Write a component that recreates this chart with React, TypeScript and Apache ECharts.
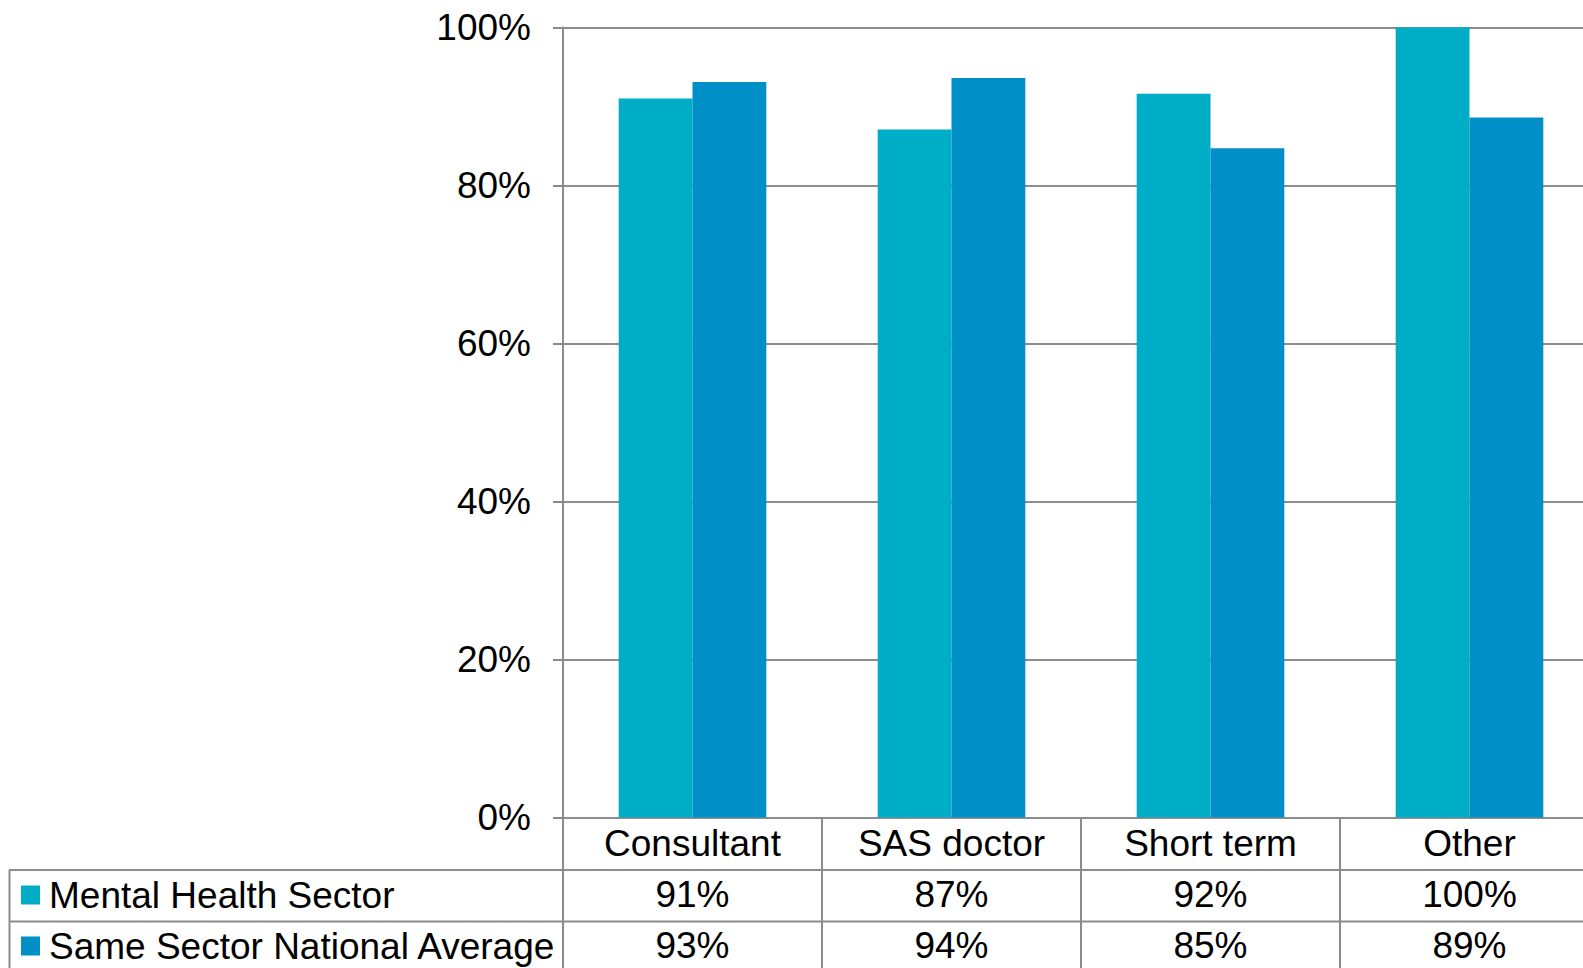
import React, { useEffect, useRef } from "react";
import * as echarts from "echarts";

const categories = ["Consultant", "SAS doctor", "Short term", "Other"];
const seriesNames = ["Mental Health Sector", "Same Sector National Average"];
const mentalHealth = [0.91, 0.871, 0.916, 1.0];
const nationalAverage = [0.931, 0.936, 0.847, 0.886];
const yTicks = [0, 0.2, 0.4, 0.6, 0.8, 1.0];

const colors = ["#00ADC6", "#008FC7"];
const gray = "#8c8c8c";
const font = "'Liberation Sans', Arial, sans-serif";

const pct = (v: number) => `${Math.round(v * 100)}%`;

export default function App() {
  const ref = useRef<HTMLDivElement>(null);
  useEffect(() => {
    if (!ref.current) return;
    const chart = echarts.init(ref.current, null, { renderer: "svg" });
    chart.setOption({
      animation: false,
      textStyle: { fontFamily: font },
      grid: {
        left: 563,
        right: 1,
        top: 27.5,
        bottom: 150.5,
        outerBoundsMode: "none",
        containLabel: false,
      },
      legend: {
        orient: "vertical",
        left: 21,
        top: 875,
        padding: 0,
        itemGap: 11,
        itemWidth: 19,
        itemHeight: 19,
        icon: "rect",
        selectedMode: false,
        data: seriesNames,
        textStyle: {
          fontFamily: font,
          fontSize: 37,
          lineHeight: 40,
          color: "#000",
          padding: [0, 0, 0, 4],
        },
      },
      xAxis: {
        type: "category",
        data: categories,
        axisLine: { show: true, lineStyle: { color: gray, width: 2 } },
        axisTick: {
          show: true,
          alignWithLabel: false,
          length: 151,
          lineStyle: { color: gray, width: 2 },
        },
        axisLabel: {
          interval: 0,
          margin: 0,
          fontFamily: font,
          fontSize: 37,
          lineHeight: 51,
          color: "#000",
          align: "center",
          formatter: (value: string, index: number) =>
            `${value}\n${pct(mentalHealth[index])}\n${pct(nationalAverage[index])}`,
        },
      },
      yAxis: {
        type: "value",
        min: yTicks[0],
        max: yTicks[yTicks.length - 1],
        interval: 0.2,
        axisLine: { show: true, lineStyle: { color: gray, width: 2 } },
        axisTick: { show: true, length: 10, lineStyle: { color: gray, width: 2 } },
        splitLine: { show: true, lineStyle: { color: gray, width: 2 } },
        axisLabel: {
          margin: 32,
          fontFamily: font,
          fontSize: 37,
          color: "#000",
          formatter: (v: number) => pct(v),
        },
      },
      series: [
        {
          name: seriesNames[0],
          type: "bar",
          data: mentalHealth,
          itemStyle: { color: colors[0] },
          barGap: "0%",
          barCategoryGap: "43%",
        },
        {
          name: seriesNames[1],
          type: "bar",
          data: nationalAverage,
          itemStyle: { color: colors[1] },
          barGap: "0%",
          barCategoryGap: "43%",
        },
      ],
      graphic: [
        {
          type: "line",
          shape: { x1: 9, y1: 870, x2: 1600, y2: 870 },
          style: { stroke: gray, lineWidth: 2 },
        },
        {
          type: "line",
          shape: { x1: 9, y1: 921.5, x2: 1600, y2: 921.5 },
          style: { stroke: gray, lineWidth: 2 },
        },
        {
          type: "line",
          shape: { x1: 9.5, y1: 870, x2: 9.5, y2: 968 },
          style: { stroke: gray, lineWidth: 2 },
        },
      ],
    });
    return () => chart.dispose();
  }, []);
  return (
    <div
      style={{
        position: "fixed",
        left: 0,
        top: 0,
        width: 1583,
        height: 968,
        overflow: "hidden",
        background: "#fff",
      }}
    >
      <div ref={ref} style={{ width: 1600, height: 968 }} />
    </div>
  );
}
